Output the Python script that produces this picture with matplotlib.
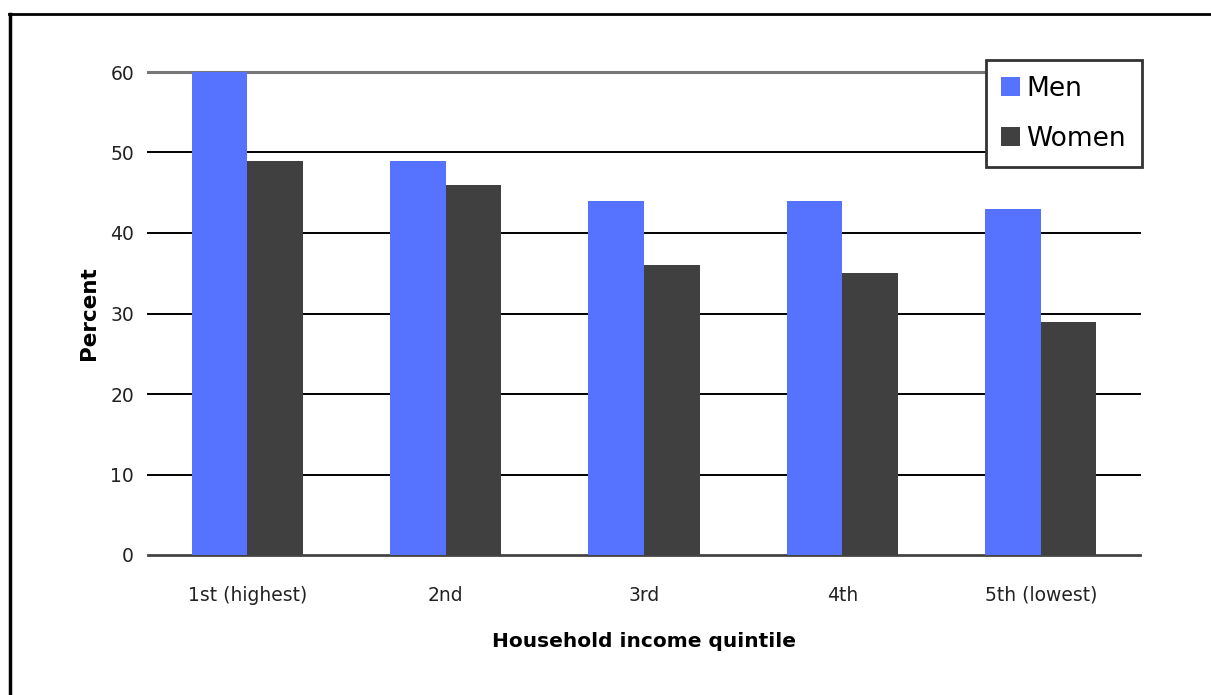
import numpy as np
import matplotlib.pyplot as plt
from matplotlib.lines import Line2D

# Data
quintiles = ['1st (highest)', '2nd', '3rd', '4th', '5th (lowest)']
men = [60, 49, 44, 44, 43]
women = [49, 46, 36, 35, 29]
yticks = [0, 10, 20, 30, 40, 50, 60]

plt.rcParams['font.family'] = ['DejaVu Sans']

fig = plt.figure(figsize=(12.11, 6.95), dpi=100)
ax = fig.add_axes([148/1211, 1 - 555/695, (1140 - 148)/1211, (555 - 72)/695])

x = np.arange(len(quintiles))
w = 0.28
ax.bar(x - w/2, men, w, color='#5573ff', label='Men', zorder=3)
ax.bar(x + w/2, women, w, color='#404040', label='Women', zorder=3)

ax.set_xlim(-0.5, len(quintiles) - 0.5)
ax.set_ylim(0, 60)
ax.set_yticks(yticks)
ax.set_xticks(x)
ax.set_xticklabels(quintiles)
ax.tick_params(axis='y', length=0, pad=10, labelsize=13.5, labelcolor='#222222')
ax.tick_params(axis='x', length=0, pad=22, labelsize=13.5, labelcolor='#222222')

ax.yaxis.grid(True, color='black', linewidth=1.4, zorder=0)
gl = ax.get_ygridlines()
for g in gl:
    g.set_clip_on(False)
gl[-1].set_color('#777777')
gl[-1].set_linewidth(2.2)
gl[0].set_color('#444444')
gl[0].set_linewidth(2)

for s in ax.spines.values():
    s.set_visible(False)

ax.set_ylabel('Percent', fontsize=15.5, fontweight='bold', labelpad=8)
ax.set_xlabel('Household income quintile', fontsize=14.5, fontweight='bold', labelpad=20)

leg = ax.legend(loc='upper right', bbox_to_anchor=(1.002, 1.025), fontsize=19,
                frameon=True, fancybox=False, framealpha=1, handlelength=0.7, handleheight=0.7,
                handletextpad=0.25, borderpad=0.6, labelspacing=0.9, borderaxespad=0)
leg.get_frame().set_edgecolor('#333333')
leg.get_frame().set_linewidth(2)
leg.set_zorder(5)

# frame lines at top and left of the picture
fig.add_artist(Line2D([9/1211, 1], [1 - 14/695, 1 - 14/695], color='black', linewidth=2))
fig.add_artist(Line2D([10/1211, 10/1211], [0, 1 - 14/695], color='black', linewidth=2.5))

fig.savefig('out.png', dpi=100, facecolor='white')
